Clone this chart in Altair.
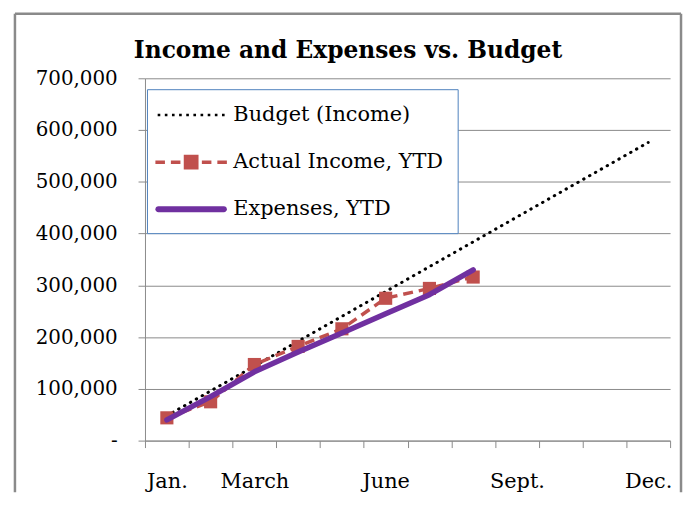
import altair as alt
import pandas as pd

months = ["Jan.", "Feb.", "March", "April", "May", "June", "July", "Aug.",
          "Sept.", "Oct.", "Nov.", "Dec."]
shown_months = ["Jan.", "March", "June", "Sept.", "Dec."]
series_names = ["Budget (Income)", "Actual Income, YTD", "Expenses, YTD"]

budget = [48000, 96000, 144000, 192000, 240000, 288000, 336000, 384000,
          432000, 480000, 528000, 576000]
income = [44000, 75000, 147000, 182000, 216000, 275000, 294000, 316000]
expenses = [40000, 85000, 133000, 171000, 208000, 245000, 282000, 330000]
y_ticks = [0, 100000, 200000, 300000, 400000, 500000, 600000, 700000]

colors = ["#000000", "#c0504d", "#7030a0"]

rows = []
for name, vals in zip(series_names, [budget, income, expenses]):
    for m, v in zip(months, vals):
        rows.append({"month": m, "series": name, "value": v})
df = pd.DataFrame(rows)

W, H = 529, 365
FONT = "DejaVu Serif"
GRAY = "#8a8a8a"


# ---- legend symbol shapes (custom SVG paths) ----
def rect(x0, y0, x1, y1):
    return f"M{x0:.3f},{y0:.3f}H{x1:.3f}V{y1:.3f}H{x0:.3f}Z"


dots = "".join(rect(-2.7 + 0.6 * i - 0.11, -0.11, -2.7 + 0.6 * i + 0.11, 0.11) for i in range(10))
dash_income = (rect(-3.0, -0.15, -2.2, 0.15) + rect(-1.7, -0.15, -0.9, 0.15) +
               rect(-0.62, -0.62, 0.62, 0.62) +
               rect(0.9, -0.15, 1.7, 0.15) + rect(2.2, -0.15, 3.0, 0.15))
thick_line = "M-2.75,-0.25H2.75A0.25,0.25 0 0 1 2.75,0.25H-2.75A0.25,0.25 0 0 1 -2.75,-0.25Z"
paths = [dots, dash_income, thick_line]

x_enc = alt.X(
    "month:N", sort=months,
    scale=alt.Scale(type="band", paddingInner=0, paddingOuter=0),
    axis=alt.Axis(
        title=None, labelAngle=0, tickBand="extent", tickSize=7,
        labelPadding=23, labelFontSize=21, grid=False,
        labelExpr="indexof(" + str(shown_months).replace('"', "'") + ", datum.value) >= 0 ? datum.value : ''",
    ),
)
y_enc = alt.Y(
    "value:Q",
    scale=alt.Scale(domain=[0, 700000], nice=False),
    axis=alt.Axis(
        title=None, values=y_ticks, tickSize=7, labelPadding=21, labelFontSize=20,
        grid=True,
        labelExpr="datum.value === 0 ? '-\u00a0\u00a0\u00a0' : format(datum.value, ',')",
    ),
)

base = alt.Chart(df).encode(x=x_enc, y=y_enc)

budget_line = base.transform_filter(alt.datum.series == series_names[0]).mark_line(
    color=colors[0], strokeWidth=3, strokeDash=[0.5, 6.3], strokeCap="round")
income_line = base.transform_filter(alt.datum.series == series_names[1]).mark_line(
    color=colors[1], strokeWidth=3.5, strokeDash=[10, 6])
income_pts = base.transform_filter(alt.datum.series == series_names[1]).mark_square(
    color=colors[1], size=175, opacity=1, filled=True)
expense_line = base.transform_filter(alt.datum.series == series_names[2]).mark_line(
    color=colors[2], strokeWidth=5.5, strokeCap="round", strokeJoin="round")

leg = alt.Legend(
    title=None, orient="none", legendX=2, legendY=11, padding=14,
    fillColor="white", strokeColor="#4f81bd", cornerRadius=0,
    labelFont=FONT, labelFontSize=21, labelColor="black", labelLimit=400,
    symbolOffset=18.5, labelOffset=30.5, rowPadding=25.5, symbolSize=576,
    symbolStrokeWidth=0, symbolOpacity=1,
)
legend_layer = base.transform_filter("false").mark_point(
    filled=True, opacity=1, size=576, strokeWidth=0).encode(
    fill=alt.Fill("series:N", scale=alt.Scale(domain=series_names, range=colors), legend=leg),
    shape=alt.Shape("series:N", scale=alt.Scale(domain=series_names, range=paths), legend=leg),
)

one = pd.DataFrame({"k": [0]})
frame_left = alt.Chart(one).mark_rule(color=GRAY, strokeWidth=2.5).encode(
    x=alt.value(-131), y=alt.value(-65), y2=alt.value(H + 52))
frame_top = alt.Chart(one).mark_rule(color=GRAY, strokeWidth=2.5).encode(
    x=alt.value(-131), x2=alt.value(540), y=alt.value(-65))
frame_right = alt.Chart(one).mark_rule(color=GRAY, strokeWidth=2.5).encode(
    x=alt.value(540), y=alt.value(-65), y2=alt.value(H + 52))

chart = alt.layer(
    frame_left, frame_top, frame_right,
    budget_line, income_line, income_pts, expense_line, legend_layer,
).properties(
    width=W, height=H,
    padding={"left": 5, "top": 2, "right": 0, "bottom": 0},
    title=alt.Title(
        "Income and Expenses vs. Budget", font=FONT, fontSize=23.5,
        fontWeight="bold", color="black", anchor="middle", frame="bounds",
        baseline="alphabetic", offset=-69,
    ),
).configure_view(stroke=None).configure_axis(
    labelFont=FONT, labelColor="black",
    domainColor=GRAY, tickColor=GRAY, gridColor=GRAY, gridWidth=1,
)

chart.save("out.html", embed_options={"renderer": "svg", "actions": False})
